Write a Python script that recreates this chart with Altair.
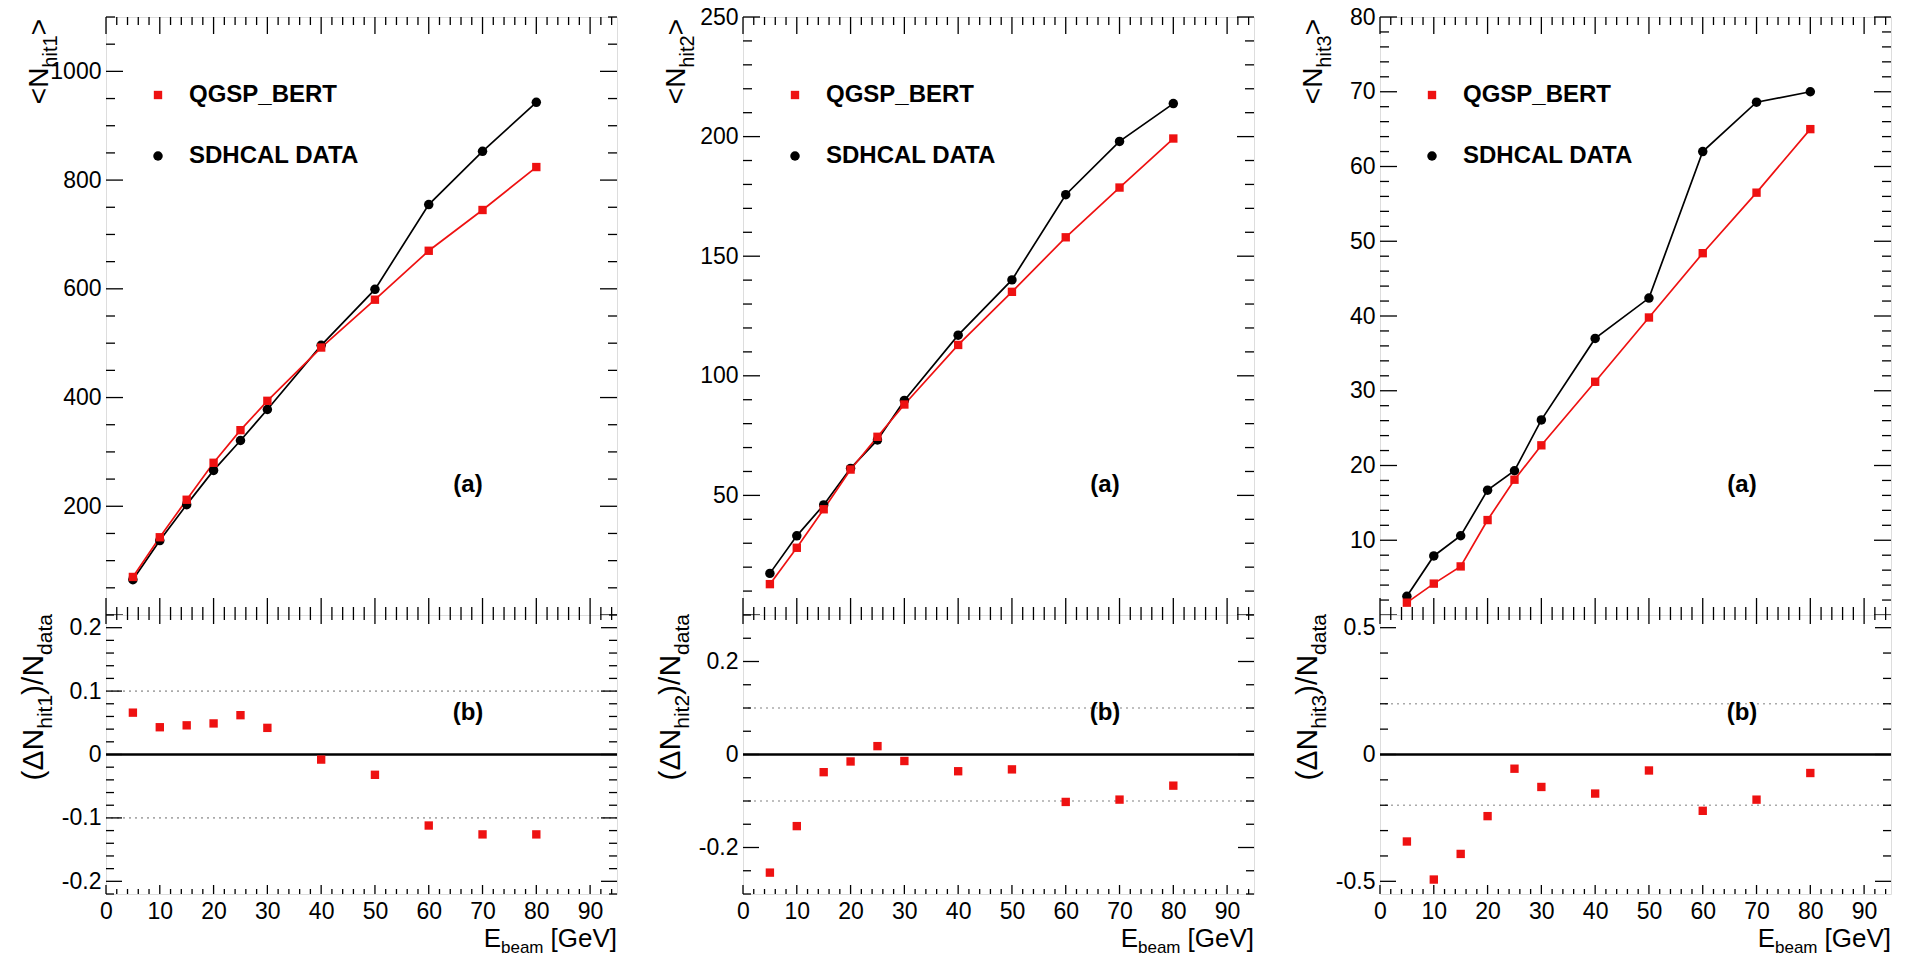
import math
import altair as alt
import pandas as pd

# ---------------- data ----------------
E_BEAM = [5, 10, 15, 20, 25, 30, 40, 50, 60, 70, 80]

DATA_HIT1 = [65, 137, 203, 266, 321, 378, 496, 599, 755, 853, 943]
SIM_HIT1 = [70, 143, 212, 280, 340, 394, 492, 580, 670, 745, 824]
RATIO_HIT1 = [0.066, 0.043, 0.046, 0.049, 0.062, 0.042, -0.008, -0.032, -0.112, -0.126, -0.126]

DATA_HIT2 = [17.4, 33.1, 46.0, 61.3, 73.2, 89.7, 117.0, 140.1, 175.7, 198.0, 213.8]
SIM_HIT2 = [12.9, 28.1, 44.2, 60.8, 74.5, 88.0, 112.9, 135.1, 157.9, 178.7, 199.2]
RATIO_HIT2 = [-0.254, -0.154, -0.038, -0.015, 0.018, -0.014, -0.036, -0.032, -0.102, -0.097, -0.067]

DATA_HIT3 = [2.5, 7.9, 10.6, 16.7, 19.3, 26.1, 37.0, 42.4, 62.0, 68.6, 70.0]
SIM_HIT3 = [1.65, 4.2, 6.5, 12.7, 18.1, 22.7, 31.2, 39.8, 48.4, 56.5, 65.0]
RATIO_HIT3 = [-0.343, -0.493, -0.392, -0.243, -0.056, -0.128, -0.154, -0.063, -0.222, -0.178, -0.073]

SERIES_NAMES = ["QGSP_BERT", "SDHCAL DATA"]
X_LABELS = [0, 10, 20, 30, 40, 50, 60, 70, 80, 90]
TOP_LABELS = [[200, 400, 600, 800, 1000], [50, 100, 150, 200, 250], [10, 20, 30, 40, 50, 60, 70, 80]]
BOT_LABELS = [[-0.2, -0.1, 0, 0.1, 0.2], [-0.2, 0, 0.2], [-0.5, 0, 0.5]]
REF_LINES = [[-0.1, 0.1], [-0.1, 0.1], [-0.2, 0.2]]
ZERO_LINE = [0]

# ---------------- styling ----------------
RED = "#ee1111"
FONT = "Liberation Sans"
W, H_TOP, H_BOT = 511, 598, 279
X_DOMAIN = [0, 95]
SQ_SIZE, CIRC_SIZE = 70, 90

PANELS = [
    dict(sub="hit1", data=DATA_HIT1, sim=SIM_HIT1, ratio=RATIO_HIT1,
         top_domain=[0, 1100], top_major=200, top_minor=50,
         bot_domain=[-0.22, 0.22], bot_major=0.1, bot_minor=0.02),
    dict(sub="hit2", data=DATA_HIT2, sim=SIM_HIT2, ratio=RATIO_HIT2,
         top_domain=[0, 250], top_major=50, top_minor=10,
         bot_domain=[-0.3, 0.3], bot_major=0.2, bot_minor=0.05),
    dict(sub="hit3", data=DATA_HIT3, sim=SIM_HIT3, ratio=RATIO_HIT3,
         top_domain=[0, 80], top_major=10, top_minor=2,
         bot_domain=[-0.55, 0.55], bot_major=0.5, bot_minor=0.1),
]

ONE = pd.DataFrame({"k": [0]})


def tick_values(lo, hi, step):
    n0 = math.ceil(lo / step - 1e-9)
    n1 = math.floor(hi / step + 1e-9)
    return [round(i * step, 6) for i in range(n0, n1 + 1)]


def minor_values(lo, hi, step, majors):
    return [v for v in tick_values(lo, hi, step)
            if not any(abs(v - m) < 1e-9 for m in majors)]


def enc_x(field, xs, axis):
    if axis is None:
        return alt.X(field, scale=xs, axis=None)
    return alt.X(field, scale=xs, axis=axis)


def enc_y(field, ys, axis):
    if axis is None:
        return alt.Y(field, scale=ys, axis=None)
    return alt.Y(field, scale=ys, axis=axis)


def rules_x(vals, xs, xaxis, y1, y2, sw=1.3):
    return alt.Chart(pd.DataFrame({"v": vals})).mark_rule(color="black", strokeWidth=sw).encode(
        x=enc_x("v:Q", xs, xaxis), y=alt.value(y1), y2=alt.value(y2))


def rules_y(vals, ys, yaxis, x1, x2, sw=1.3):
    return alt.Chart(pd.DataFrame({"v": vals})).mark_rule(color="black", strokeWidth=sw).encode(
        y=enc_y("v:Q", ys, yaxis), x=alt.value(x1), x2=alt.value(x2))


def txt(s, x, y, size, angle=None, align="left", baseline="alphabetic", weight="normal"):
    props = dict(text=s, fontSize=size, font=FONT, align=align, baseline=baseline,
                 fontWeight=weight, color="black")
    if angle is not None:
        props["angle"] = angle
    return alt.Chart(ONE).mark_text(**props).encode(x=alt.value(x), y=alt.value(y))


def frame_ticks(xs, xaxis, ys, yaxis, h, ydom, ymaj, ymin, xlen_maj, xlen_min, ylen_maj, ylen_min):
    xmaj = tick_values(0, 95, 10)
    xmin = minor_values(0, 95, 2, xmaj)
    ymajv = tick_values(ydom[0], ydom[1], ymaj)
    yminv = minor_values(ydom[0], ydom[1], ymin, ymajv)
    return [
        rules_x(xmaj, xs, xaxis, h, h - xlen_maj), rules_x(xmaj, xs, xaxis, 0, xlen_maj),
        rules_x(xmin, xs, xaxis, h, h - xlen_min), rules_x(xmin, xs, xaxis, 0, xlen_min),
        rules_y(ymajv, ys, yaxis, 0, ylen_maj), rules_y(ymajv, ys, yaxis, W, W - ylen_maj),
        rules_y(yminv, ys, yaxis, 0, ylen_min), rules_y(yminv, ys, yaxis, W, W - ylen_min),
    ]


def label_axis(values, **kw):
    return alt.Axis(values=values, ticks=False, domain=False, grid=False, labelFont=FONT,
                    labelFontSize=23, labelColor="black", labelOverlap=False, labelFlush=False,
                    title=None, **kw)


tops, bots = [], []
for i, p in enumerate(PANELS):
    df = pd.DataFrame({"E": E_BEAM, "data": p["data"], "sim": p["sim"], "ratio": p["ratio"]})
    xs = alt.Scale(domain=X_DOMAIN, nice=False, zero=False)
    ys_top = alt.Scale(domain=p["top_domain"], nice=False, zero=False)
    ys_bot = alt.Scale(domain=p["bot_domain"], nice=False, zero=False)

    y_axis_top = label_axis(TOP_LABELS[i], format="d", labelPadding=5)
    y_axis_bot = label_axis(
        BOT_LABELS[i], labelPadding=5,
        labelExpr="datum.value == 0 ? '0' : (datum.value < 0 ? '-' : '') + format(abs(datum.value), '.1f')")
    x_axis_bot = label_axis(X_LABELS, format="d", labelPadding=6)

    base = alt.Chart(df)
    black_line = base.mark_line(color="black", strokeWidth=1.7).encode(
        x=enc_x("E:Q", xs, None), y=enc_y("data:Q", ys_top, y_axis_top))
    black_pts = base.mark_point(shape="circle", filled=True, size=CIRC_SIZE, opacity=1, color="black").encode(
        x=enc_x("E:Q", xs, None), y=enc_y("data:Q", ys_top, y_axis_top))
    red_line = base.mark_line(color=RED, strokeWidth=1.7).encode(
        x=enc_x("E:Q", xs, None), y=enc_y("sim:Q", ys_top, y_axis_top))
    red_pts = base.mark_point(shape="square", filled=True, size=SQ_SIZE, opacity=1, color=RED).encode(
        x=enc_x("E:Q", xs, None), y=enc_y("sim:Q", ys_top, y_axis_top))

    top_layers = [black_line, red_line, black_pts, red_pts]
    top_layers += frame_ticks(xs, None, ys_top, y_axis_top, H_TOP, p["top_domain"],
                              p["top_major"], p["top_minor"], 17, 8, 17, 9)
    # legend + annotations
    top_layers += [
        alt.Chart(ONE).mark_point(shape="square", filled=True, size=SQ_SIZE, opacity=1, color=RED).encode(
            x=alt.value(52), y=alt.value(78)),
        alt.Chart(ONE).mark_point(shape="circle", filled=True, size=CIRC_SIZE, opacity=1, color="black").encode(
            x=alt.value(52), y=alt.value(139)),
        txt(SERIES_NAMES[0], 83, 78, 24, baseline="middle", weight="bold"),
        txt(SERIES_NAMES[1], 83, 139, 24, baseline="middle", weight="bold"),
        txt("(a)", 362, 468, 24, align="center", baseline="middle", weight="bold"),
        # y title  <N_hitX>
        txt(">", -58, 2, 28, angle=270, align="right"),
        txt(p["sub"], -49, 18.4, 20, angle=270, align="right"),
        txt("<N", -58, 50.6, 28, angle=270, align="right"),
    ]
    if i == 0:
        # white anchor fixing the top-left corner of the page
        top_layers.append(
            alt.Chart(ONE).mark_rule(color="white", strokeWidth=1).encode(
                x=alt.value(-104.5), x2=alt.value(-104), y=alt.value(-15.5), y2=alt.value(-15)))
    tops.append(alt.layer(*top_layers).properties(width=W, height=H_TOP))

    # ----- ratio panel -----
    dotted = alt.Chart(pd.DataFrame({"v": REF_LINES[i]})).mark_rule(
        color="#aaaaaa", strokeWidth=1.6, strokeDash=[2, 4]).encode(
        y=enc_y("v:Q", ys_bot, y_axis_bot))
    zero = alt.Chart(pd.DataFrame({"v": ZERO_LINE})).mark_rule(color="black", strokeWidth=2.6).encode(
        y=enc_y("v:Q", ys_bot, y_axis_bot))
    ratio_pts = base.mark_point(shape="square", filled=True, size=SQ_SIZE, opacity=1, color=RED).encode(
        x=enc_x("E:Q", xs, x_axis_bot), y=enc_y("ratio:Q", ys_bot, y_axis_bot))
    bot_layers = [dotted, zero]
    bot_layers += frame_ticks(xs, x_axis_bot, ys_bot, y_axis_bot, H_BOT, p["bot_domain"],
                              p["bot_major"], p["bot_minor"], 9, 5, 16, 8)
    bot_layers += [
        ratio_pts,
        txt("(b)", 362, 98, 24, align="center", baseline="middle", weight="bold"),
        # y title (ΔN_hitX)/N_data
        txt("data", -54, -1, 21, angle=270, align="right"),
        txt(")/N", -63, 39.9, 30, angle=270, align="right"),
        txt(p["sub"], -54, 79.9, 21, angle=270, align="right"),
        txt("(\u0394N", -63, 113.8, 30, angle=270, align="right"),
        # x title E_beam [GeV]
        txt("[GeV]", W, 332, 26, align="right"),
        txt("beam", W - 73.5, 338, 17, align="right"),
        txt("E", W - 116, 332, 26, align="right"),
    ]
    bots.append(alt.layer(*bot_layers).properties(width=W, height=H_BOT))

chart = alt.concat(*tops, *bots, columns=3, spacing={"row": 0, "column": 126}, bounds="flush").properties(
    padding=0
).configure_view(stroke="black", strokeWidth=1.6).configure(background="white")

chart.save("out.html", embed_options={"renderer": "svg", "actions": False})
